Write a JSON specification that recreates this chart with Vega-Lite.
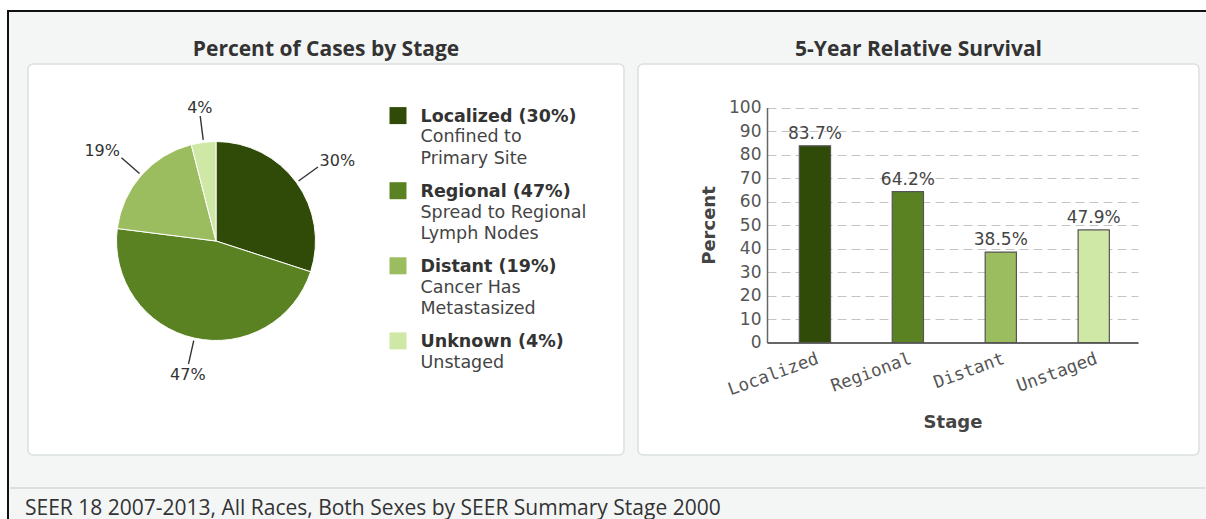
{
  "$schema": "https://vega.github.io/schema/vega-lite/v6.json",
  "background": "#f4f6f6",
  "padding": 0,
  "config": {"view": {"stroke": null}},
  "spacing": 0,
  "vconcat": [
    {"width": 1206, "height": 10, "view": {"fill": "#ffffff"}, "data": {"values": []}, "mark": "rule", "encoding": {}},
    {"spacing": 0, "hconcat": [
      {"width": 7, "height": 509, "view": {"fill": "#ffffff"}, "data": {"values": []}, "mark": "rule", "encoding": {}},
      {"spacing": 0, "vconcat": [
        {"width": 1199, "height": 2, "view": {"fill": "#111111"}, "data": {"values": []}, "mark": "rule", "encoding": {}},
        {"spacing": 0, "hconcat": [
          {"width": 2, "height": 507, "view": {"fill": "#111111"}, "data": {"values": []}, "mark": "rule", "encoding": {}},
          {"spacing": 0, "vconcat": [
            {"width": 1, "height": 26, "data": {"values": []}, "mark": "rule", "encoding": {}},
            {"spacing": 12, "hconcat": [
              {"width": 5, "height": 1, "data": {"values": []}, "mark": "rule", "encoding": {}},
              {
                "width": 596, "height": 391,
                "title": {"text": "Percent of Cases by Stage", "font": "Open Sans", "fontSize": 21, "fontWeight": "bold", "color": "#333333", "baseline": "alphabetic", "offset": -13, "anchor": "middle"},
                "view": {"fill": "#ffffff", "stroke": "#dcdfdf", "strokeWidth": 1.5, "cornerRadius": 5},
                "data": {"values": [
                  {"stage": "Localized", "stageNum": 1, "pct": 0.30, "legendTitle": "Localized (30%)", "desc": "Confined to\nPrimary Site"},
                  {"stage": "Regional", "stageNum": 2, "pct": 0.47, "legendTitle": "Regional (47%)", "desc": "Spread to Regional\nLymph Nodes"},
                  {"stage": "Distant", "stageNum": 3, "pct": 0.19, "legendTitle": "Distant (19%)", "desc": "Cancer Has\nMetastasized"},
                  {"stage": "Unknown", "stageNum": 4, "pct": 0.04, "legendTitle": "Unknown (4%)", "desc": "Unstaged"}
                ]},
                "resolve": {"scale": {"y": "independent"}},
                "layer": [
                  {
                    "encoding": {
                      "theta": {"field": "pct", "type": "quantitative", "stack": true},
                      "order": {"field": "stageNum", "type": "quantitative"},
                      "x": {"datum": "pie", "type": "nominal", "scale": {"type": "point", "domain": ["pie", "legend"], "range": [188, 370], "padding": 0}, "axis": null},
                      "y": {"datum": "pie", "type": "nominal", "scale": {"type": "point", "domain": ["pie"], "align": 0.4527}, "axis": null}
                    },
                    "layer": [
                      {"mark": {"type": "arc", "radius": 99.5, "stroke": "#ffffff", "strokeWidth": 1},
                       "encoding": {"color": {"field": "stage", "type": "nominal", "scale": {"domain": ["Localized", "Regional", "Distant", "Unknown", "Unstaged"], "range": ["#2f4b07", "#5a8223", "#9bbd5f", "#d0e8a6", "#d0e8a6"]}, "legend": null}}},
                      {"mark": {"type": "arc", "radius": 126, "radius2": 102, "padAngle": 3, "filled": false, "stroke": "#333333", "strokeWidth": 1.4},
                       "encoding": {"detail": {"field": "stage", "type": "nominal"}}},
                      {"mark": {"type": "text", "radius": 128, "font": "DejaVu Sans", "fontSize": 16, "fill": "#333333", "align": "left", "baseline": "alphabetic"},
                       "encoding": {"detail": {"field": "stage", "type": "nominal"}, "text": {"condition": {"test": "datum.stage === 'Localized'", "field": "pct", "type": "quantitative", "format": ".0%"}, "value": ""}}},
                      {"mark": {"type": "text", "radius": 128, "font": "DejaVu Sans", "fontSize": 16, "fill": "#333333", "align": "right", "baseline": "alphabetic"},
                       "encoding": {"detail": {"field": "stage", "type": "nominal"}, "text": {"condition": {"test": "datum.stage === 'Distant'", "field": "pct", "type": "quantitative", "format": ".0%"}, "value": ""}}},
                      {"mark": {"type": "text", "radius": 129, "font": "DejaVu Sans", "fontSize": 16, "fill": "#333333", "align": "center", "baseline": "alphabetic"},
                       "encoding": {"detail": {"field": "stage", "type": "nominal"}, "text": {"condition": {"test": "datum.stage === 'Unknown'", "field": "pct", "type": "quantitative", "format": ".0%"}, "value": ""}}},
                      {"mark": {"type": "text", "radius": 129, "font": "DejaVu Sans", "fontSize": 16, "fill": "#333333", "align": "center", "baseline": "top"},
                       "encoding": {"detail": {"field": "stage", "type": "nominal"}, "text": {"condition": {"test": "datum.stage === 'Regional'", "field": "pct", "type": "quantitative", "format": ".0%"}, "value": ""}}}
                    ]
                  },
                  {
                    "encoding": {
                      "x": {"datum": "legend", "type": "nominal", "scale": {"type": "point", "domain": ["pie", "legend"], "range": [188, 370], "padding": 0}, "axis": null},
                      "y": {"field": "stage", "type": "nominal", "scale": {"type": "point", "domain": ["Localized", "Regional", "Distant", "Unknown"], "range": [51.6, 276.9], "padding": 0}, "axis": null}
                    },
                    "layer": [
                      {"mark": {"type": "square", "size": 289, "opacity": 1, "filled": true},
                       "encoding": {"color": {"field": "stage", "type": "nominal", "scale": {"domain": ["Localized", "Regional", "Distant", "Unknown", "Unstaged"], "range": ["#2f4b07", "#5a8223", "#9bbd5f", "#d0e8a6", "#d0e8a6"]}, "legend": null}}},
                      {"mark": {"type": "text", "align": "left", "baseline": "alphabetic", "dx": 22.5, "dy": 6.5, "font": "DejaVu Sans", "fontSize": 17.5, "fontWeight": "bold", "fill": "#333333"},
                       "encoding": {"text": {"field": "legendTitle", "type": "nominal"}}},
                      {"mark": {"type": "text", "align": "left", "baseline": "alphabetic", "dx": 22.5, "dy": 26.8, "lineBreak": "\n", "lineHeight": 21.2, "font": "DejaVu Sans", "fontSize": 17.5, "fill": "#444444"},
                       "encoding": {"text": {"field": "desc", "type": "nominal"}}}
                    ]
                  }
                ]
              },
              {
                "width": 561, "height": 391,
                "title": {"text": "5-Year Relative Survival", "font": "Open Sans", "fontSize": 21, "fontWeight": "bold", "color": "#333333", "baseline": "alphabetic", "offset": -13, "anchor": "middle"},
                "view": {"fill": "#ffffff", "stroke": "#dcdfdf", "strokeWidth": 1.5, "cornerRadius": 5},
                "data": {"values": [
                  {"stage": "Localized", "survival": 0.837},
                  {"stage": "Regional", "survival": 0.642},
                  {"stage": "Distant", "survival": 0.385},
                  {"stage": "Unstaged", "survival": 0.479}
                ]},
                "encoding": {
                  "x": {"field": "stage", "type": "nominal", "sort": null,
                        "scale": {"type": "band", "range": [129, 500], "paddingInner": 0.664, "paddingOuter": 0.328, "align": 0.53},
                        "axis": {"title": "Stage", "offset": -112.5, "labelAngle": -20, "labelAlign": "right", "labelBaseline": "top", "labelPadding": 7, "labelFont": "DejaVu Sans Mono", "labelFontSize": 17.5, "labelColor": "#555555", "ticks": false, "domainColor": "#666666", "domainWidth": 2, "titleFont": "DejaVu Sans", "titleFontSize": 18, "titleFontWeight": "bold", "titleColor": "#444444", "titlePadding": 15}},
                  "y": {"field": "survival", "type": "quantitative",
                        "scale": {"domain": [0, 1], "range": [278.5, 43.5], "nice": false, "zero": true},
                        "axis": {"title": "Percent", "values": [0, 0.1, 0.2, 0.3, 0.4, 0.5, 0.6, 0.7, 0.8, 0.9, 1], "labelExpr": "round(datum.value * 100)", "offset": -129, "grid": true, "gridDash": [9, 5], "gridColor": "#c4c4c4", "gridWidth": 1, "domainColor": "#666666", "domainWidth": 1.5, "ticks": false, "labelPadding": 6, "labelFont": "DejaVu Sans", "labelFontSize": 17, "labelColor": "#555555", "titleFont": "DejaVu Sans", "titleFontSize": 18, "titleFontWeight": "bold", "titleColor": "#444444", "titlePadding": 10}}
                },
                "layer": [
                  {"mark": {"type": "bar", "stroke": "#555555", "strokeWidth": 1.2},
                   "encoding": {"color": {"field": "stage", "type": "nominal", "scale": {"domain": ["Localized", "Regional", "Distant", "Unknown", "Unstaged"], "range": ["#2f4b07", "#5a8223", "#9bbd5f", "#d0e8a6", "#d0e8a6"]}, "legend": null}}},
                  {"mark": {"type": "text", "dy": -7, "baseline": "alphabetic", "font": "DejaVu Sans", "fontSize": 17, "fill": "#444444"},
                   "encoding": {"text": {"field": "survival", "type": "quantitative", "format": ".1%"}}}
                ]
              }
            ]},
            {"width": 1, "height": 31, "data": {"values": []}, "mark": "rule", "encoding": {}},
            {
              "width": 1195, "height": 30,
              "view": {"stroke": "#dcdfdf", "strokeWidth": 2, "strokeDash": [1195, 1255]},
              "title": {"text": "SEER 18 2007-2013, All Races, Both Sexes by SEER Summary Stage 2000", "orient": "top", "anchor": "start", "frame": "group", "offset": -48, "baseline": "alphabetic", "dx": 15, "font": "Open Sans", "fontSize": 21, "fontWeight": "normal", "color": "#333333"},
              "data": {"values": []}, "mark": "rule", "encoding": {}
            }
          ]}
        ]}
      ]}
    ]}
  ]
}
